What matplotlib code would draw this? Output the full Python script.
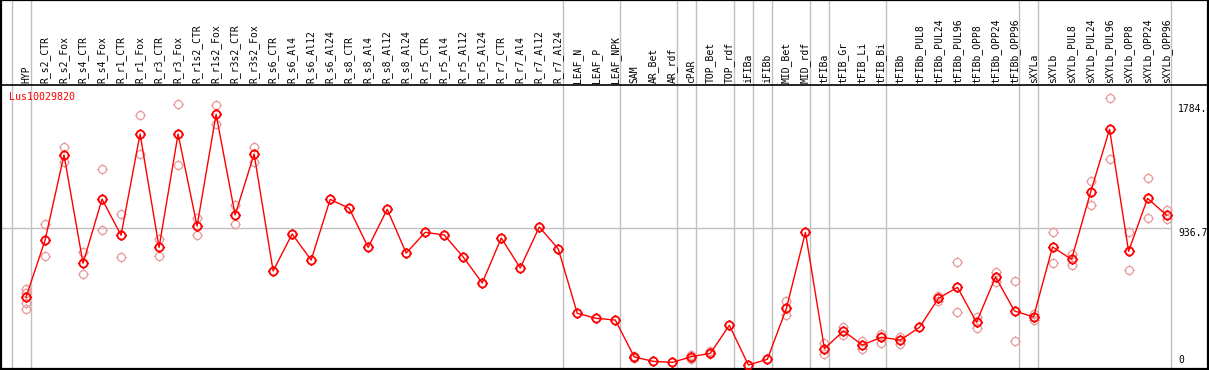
import matplotlib
matplotlib.use("Agg")
import matplotlib.pyplot as plt
from matplotlib.path import Path
import numpy as np

samples = [
    "HYP",
    "R_s2_CTR", "R_s2_Fox", "R_s4_CTR", "R_s4_Fox", "R_r1_CTR", "R_r1_Fox",
    "R_r3_CTR", "R_r3_Fox", "R_r1s2_CTR", "R_r1s2_Fox", "R_r3s2_CTR", "R_r3s2_Fox",
    "R_s6_CTR", "R_s6_Al4", "R_s6_Al12", "R_s6_Al24",
    "R_s8_CTR", "R_s8_Al4", "R_s8_Al12", "R_s8_Al24",
    "R_r5_CTR", "R_r5_Al4", "R_r5_Al12", "R_r5_Al24",
    "R_r7_CTR", "R_r7_Al4", "R_r7_Al12", "R_r7_Al24",
    "LEAF_N", "LEAF_P", "LEAF_NPK",
    "SAM", "AR_Bet", "AR_rdf", "cPAR", "TOP_Bet", "TOP_rdf",
    "iFIBa", "iFIBb", "MID_Bet", "MID_rdf",
    "tFIBa", "tFIB_Gr", "tFIB_Li", "tFIB_Bi",
    "tFIBb", "tFIBb_PUL8", "tFIBb_PUL24", "tFIBb_PUL96",
    "tFIBb_OPP8", "tFIBb_OPP24", "tFIBb_OPP96",
    "sXYLa", "sXYLb", "sXYLb_PUL8", "sXYLb_PUL24", "sXYLb_PUL96",
    "sXYLb_OPP8", "sXYLb_OPP24", "sXYLb_OPP96",
]

means = [
    464,
    854, 1439, 697, 1137, 889, 1583, 806, 1583, 952, 1718, 1028, 1446,
    644, 898, 719, 1135,
    1074, 806, 1067, 767,
    909, 891, 740, 562,
    870, 665, 946, 795,
    354, 320, 308,
    55, 25, 18, 57, 80, 272,
    0, 39, 388, 909,
    112, 233, 137, 190,
    171, 258, 457, 532, 293, 603, 370,
    329, 809, 724, 1183, 1615, 779, 1142, 1026,
]

replicates = [
    [519, 496, 425, 386],
    [964, 745], [1492, 1393], [776, 621], [1341, 923], [1033, 738], [1711, 1446],
    [861, 749], [1788, 1368], [1009, 891], [1782, 1649], [1096, 964], [1494, 1391],
    [], [], [], [],
    [], [], [], [],
    [], [], [], [],
    [], [], [], [],
    [], [], [],
    [64, 46], [], [], [66, 39], [98, 75], [],
    [], [], [438, 340], [],
    [149, 73], [258, 208], [162, 112], [212, 148],
    [194, 144], [], [473, 441], [704, 361], [331, 251], [637, 567], [573, 162],
    [347, 306], [913, 697], [763, 687], [1261, 1098], [1827, 1409], [909, 649],
    [1279, 1005], [1062, 998],
]

# index of the last sample in each group (a grey separator follows it)
group_ends = [-1, 0, 28, 31, 34, 35, 37, 38, 39, 41, 42, 45, 52, 53, 60]

gene = "Lus10029820"
y_mid = 936.7
y_top_label = "1784."
y_mid_label = "936.7"

# circle marker with four tiny ticks
circle = Path.unit_circle()
ticks = Path(
    [(0, 1), (0, 1.3), (0, -1), (0, -1.3), (1, 0), (1.3, 0), (-1, 0), (-1.3, 0)],
    [Path.MOVETO, Path.LINETO] * 4,
)
tick_circle = Path.make_compound_path(circle, ticks)

W, H = 1209, 370
fig = plt.figure(figsize=(W / 100, H / 100), dpi=100)
ax = fig.add_axes([1 / W, 1 / H, 1207 / W, 369 / H])

px_per_i = 19.01
px_per_v = 0.14594
x0 = 26
y0 = 365
ax.set_xlim((1 - x0) / px_per_i, (1208 - x0) / px_per_i)
ax.set_ylim((y0 - 369) / px_per_v, (y0 - 0) / px_per_v)
header_y = (y0 - 85) / px_per_v

for s in ax.spines.values():
    s.set_linewidth(1.6)
    s.set_color("black")
ax.set_xticks([])
ax.set_yticks([])

x = np.arange(len(samples))

for k in group_ends:
    ax.axvline(k + 0.25, color="#c0c0c0", lw=1.0, zorder=1)
ax.hlines(y_mid, ax.get_xlim()[0], group_ends[-1] + 0.25, color="#c0c0c0", lw=1.0, zorder=1)
ax.axhline(header_y, color="black", lw=1.2, zorder=2)

rx, ry = [], []
for i, reps in enumerate(replicates):
    for r in reps:
        rx.append(i)
        ry.append(r)
ax.plot(rx, ry, ls="none", marker=tick_circle, ms=7.5, mfc="none",
        mec="#e89a9a", mew=0.9, zorder=3)

ax.plot(x, means, color="#ff0000", lw=1.0, zorder=4)
ax.plot(x, means, ls="none", marker=tick_circle, ms=7.5, mfc="none",
        mec="#ff0000", mew=1.3, zorder=5)

mono = "DejaVu Sans Mono"
for i, name in enumerate(samples):
    ax.text(i, header_y + 14, name, rotation=90, ha="center", va="bottom",
            fontsize=7, family=mono, color="black")

ax.text(-0.88, 1838, gene, color="#ff0000", fontsize=7.2, family=mono,
        ha="left", va="center")

xr = len(samples) - 1 + 0.6
ax.text(xr, 1790, y_top_label, fontsize=7, family=mono, ha="left", va="top")
ax.text(xr, y_mid, y_mid_label, fontsize=7, family=mono, ha="left", va="top")
ax.text(xr, 0, "0", fontsize=7, family=mono, ha="left", va="bottom")

fig.savefig("out.png", dpi=100)
